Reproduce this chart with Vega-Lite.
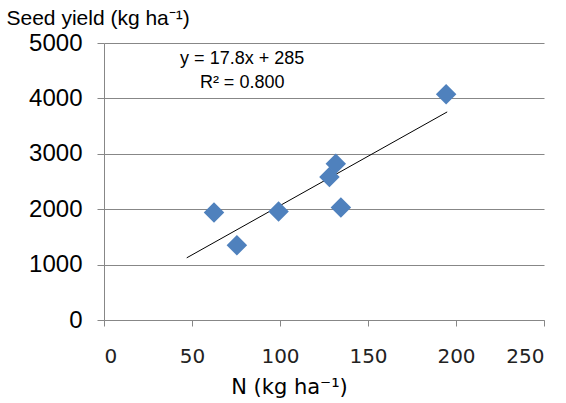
{
  "$schema": "https://vega.github.io/schema/vega-lite/v6.json",
  "width": 440,
  "height": 277,
  "padding": {"left": 104, "top": 43, "right": 22, "bottom": 83},
  "autosize": "none",
  "background": "white",
  "config": {"view": {"stroke": null}},
  "datasets": {
    "pts": [
      {"N": 62.5, "yield": 1942},
      {"N": 75.5, "yield": 1348},
      {"N": 99.2, "yield": 1960},
      {"N": 128.1, "yield": 2580},
      {"N": 131.7, "yield": 2820},
      {"N": 134.6, "yield": 2032},
      {"N": 194.4, "yield": 4076}
    ],
    "trend": [
      {"N": 47, "yield": 1122},
      {"N": 195, "yield": 3756}
    ],
    "labels": [
      {"N": 78.5, "yield": 4712, "text": "y = 17.8x + 285"},
      {"N": 78.5, "yield": 4270, "text": "R² = 0.800"}
    ]
  },
  "layer": [
    {
      "data": {"name": "trend"},
      "mark": {"type": "line", "color": "#000000", "strokeWidth": 1},
      "encoding": {
        "x": {
          "field": "N", "type": "quantitative",
          "scale": {"domain": [0, 250], "nice": false},
          "axis": {
            "values": [0, 50, 100, 150, 200, 250],
            "grid": false,
            "domainColor": "#878787",
            "tickColor": "#878787",
            "tickSize": 6,
            "labelFont": "DejaVu Sans",
            "labelFontSize": 20,
            "labelColor": "#222222",
            "labelPadding": 20,
            "title": "N (kg ha⁻¹)",
            "titleFont": "DejaVu Sans",
            "titleFontSize": 21,
            "titleFontWeight": "normal",
            "titleColor": "#000000",
            "titleX": 185,
            "titleY": 67,
            "titleAnchor": null,
            "titleAlign": "center",
            "titleBaseline": "middle"
          }
        },
        "y": {
          "field": "yield", "type": "quantitative",
          "scale": {"domain": [0, 5000], "nice": false},
          "axis": {
            "values": [0, 1000, 2000, 3000, 4000, 5000],
            "format": "d",
            "grid": true,
            "gridColor": "#878787",
            "gridWidth": 1.2,
            "domainColor": "#878787",
            "tickColor": "#878787",
            "tickSize": 7,
            "labelFont": "Liberation Sans",
            "labelFontSize": 24,
            "labelColor": "#000000",
            "labelPadding": 15,
            "title": "Seed yield (kg ha⁻¹)",
            "titleFont": "Liberation Sans",
            "titleFontSize": 21,
            "titleFontWeight": "normal",
            "titleColor": "#000000",
            "titleAngle": 0,
            "titleAlign": "left",
            "titleBaseline": "alphabetic",
            "titleX": -98,
            "titleY": -19
          }
        }
      }
    },
    {
      "data": {"name": "pts"},
      "mark": {"type": "point", "shape": "diamond", "filled": true, "size": 420, "color": "#4F81BD", "opacity": 1},
      "encoding": {
        "x": {"field": "N", "type": "quantitative"},
        "y": {"field": "yield", "type": "quantitative"}
      }
    },
    {
      "data": {"name": "labels"},
      "mark": {"type": "text", "font": "Liberation Sans", "fontSize": 18, "fontWeight": "normal", "align": "center", "baseline": "middle", "color": "#000000"},
      "encoding": {
        "x": {"field": "N", "type": "quantitative"},
        "y": {"field": "yield", "type": "quantitative"},
        "text": {"field": "text"}
      }
    }
  ]
}
